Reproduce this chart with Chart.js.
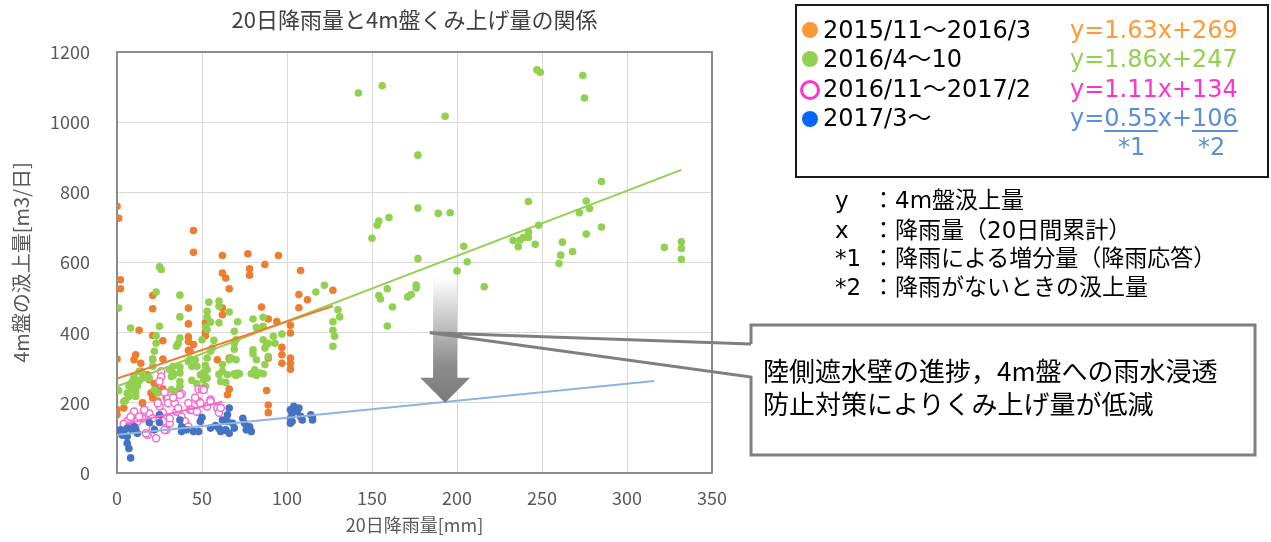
<!DOCTYPE html>
<html>
<head>
<meta charset="utf-8">
<script src="https://cdn.jsdelivr.net/npm/chart.js@4.4.1/dist/chart.umd.min.js"></script>
<style>
  html, body { margin: 0; padding: 0; background: #fff; }
  #wrap { position: relative; width: 1271px; height: 542px; overflow: hidden; }
  #chart { position: absolute; left: 0; top: 0; }
  .txt { position: absolute; white-space: nowrap; font-family: "DejaVu Sans", "Noto Sans CJK JP", sans-serif; color: #000; }
  #title { position: absolute; left: 117px; width: 595px; top: 5px; text-align: center; white-space: nowrap;
           font: 22px "Noto Sans CJK JP", sans-serif; color: #404040; line-height: 26px; }
  #legendBox { position: absolute; left: 795px; top: 4px; width: 474px; height: 174px; box-sizing: border-box; border: 2px solid #1a1a1a; }
  .row { font-size: 24px; line-height: 30px; height: 30px; }
  .dot { position: absolute; width: 16px; height: 16px; border-radius: 50%; }
  .ring { position: absolute; width: 14px; height: 14px; border-radius: 50%; border: 3px solid #ff33cc; }
  .eq { font-size: 24px; line-height: 30px; }
  .ul { text-decoration: underline; text-decoration-thickness: 2px; text-underline-offset: 4px; }
  .note { font-size: 23px; line-height: 28px; }
  .callout { font: 26px "Noto Sans CJK JP", sans-serif; line-height: 32px; }
</style>
</head>
<body>
<div id="wrap">
  <canvas id="chart" width="1271" height="542"></canvas>
  <div id="title">20日降雨量と4m盤くみ上げ量の関係</div>

  <div id="legendBox"></div>
  <div class="dot" style="left:802px;top:22px;background:#ff9933"></div>
  <div class="dot" style="left:802px;top:51px;background:#92d050"></div>
  <div class="ring" style="left:800px;top:80px"></div>
  <div class="dot" style="left:802px;top:111px;background:#0066ff"></div>
  <div class="txt row" style="left:823px;top:15px">2015/11～2016/3</div>
  <div class="txt row" style="left:823px;top:44px">2016/4～10</div>
  <div class="txt row" style="left:823px;top:74px">2016/11～2017/2</div>
  <div class="txt row" style="left:823px;top:103px">2017/3～</div>
  <div class="txt eq" style="left:1070px;top:15px;color:#ff9933">y=1.63x+269</div>
  <div class="txt eq" style="left:1070px;top:44px;color:#92d050">y=1.86x+247</div>
  <div class="txt eq" style="left:1070px;top:74px;color:#ff33cc">y=1.11x+134</div>
  <div class="txt eq" style="left:1070px;top:103px;color:#5b8fd6">y=<span class="ul">0.55</span>x+<span class="ul">106</span></div>
  <div class="txt eq" style="left:1118px;top:132px;color:#5b8fd6">*1</div>
  <div class="txt eq" style="left:1198px;top:132px;color:#5b8fd6">*2</div>

  <div class="txt note" style="left:835px;top:186px">y</div>
  <div class="txt note" style="left:872px;top:186px">：4m盤汲上量</div>
  <div class="txt note" style="left:835px;top:216px">x</div>
  <div class="txt note" style="left:872px;top:216px">：降雨量（20日間累計）</div>
  <div class="txt note" style="left:835px;top:244px">*1</div>
  <div class="txt note" style="left:872px;top:244px">：降雨による増分量（降雨応答）</div>
  <div class="txt note" style="left:835px;top:273px">*2</div>
  <div class="txt note" style="left:872px;top:273px">：降雨がないときの汲上量</div>

  <div class="txt callout" style="left:763px;top:354px">陸側遮水壁の進捗，4m盤への雨水浸透</div>
  <div class="txt callout" style="left:763px;top:387px">防止対策によりくみ上げ量が低減</div>
</div>
<script>
// 2015/11～2016/3
const orangeX = [0, 1, 2, 2, 0, 0, 0, 45, 45, 62, 77, 95, 87, 78, 78, 62, 64, 108, 66, 107, 112, 107, 127,
  21, 21, 42, 42, 85, 89, 62, 62, 52, 52, 52, 42, 42, 42, 13, 21, 27, 11, 10, 14, 21, 27, 45, 59, 66, 89,
  97, 97, 97, 102, 102, 102, 102, 102, 88, 89, 89, 66, 65, 14, 18, 22, 23, 21, 27, 29, 20, 15, 24, 12, 43, 4,
  94, 15, 19];
const orangeY = [760, 726, 551, 525, 325, 180, 166, 691, 629, 620, 625, 620, 594, 582, 564, 570, 556, 577, 525, 509, 494, 471, 521,
  506, 468, 470, 425, 473, 439, 470, 451, 428, 401, 391, 388, 375, 350, 407, 392, 377, 337, 323, 313, 325, 325, 366, 323, 328, 328,
  358, 337, 313, 421, 399, 328, 313, 296, 235, 194, 172, 239, 223, 290, 280, 255, 240, 214, 240, 214, 228, 200, 205, 260, 347, 185,
  432, 199, 266];

// 2016/4～10
const greenX = [142, 156, 247, 249, 274, 275, 193, 177, 285, 242, 276, 278, 272, 177, 189, 196, 160, 154, 153, 150,
  248, 242, 242, 239, 237, 233, 236, 246, 262, 261, 260, 268, 276, 285, 322, 332, 332, 332, 204, 206, 200, 177,
  216, 159, 176, 176, 173, 171, 154, 155, 162, 159, 122, 117, 130, 131, 127, 127, 128, 127, 97, 86, 82, 86, 89,
  87, 92, 80, 71, 66, 60, 60, 54, 53, 53, 55, 57, 52, 53, 50, 69, 69, 70, 71, 70, 62, 62, 61, 53, 52, 49, 44,
  42, 37, 37, 37, 37, 33, 33, 33, 37, 37, 35, 26, 25, 23, 25, 23, 23, 22, 21, 21, 8, 1, 1, 10, 10, 9, 11, 13,
  12, 7, 6, 5, 7, 4, 15, 19, 32, 22, 24, 35, 44, 52, 51, 47, 81, 82, 79, 84, 86, 80, 65, 69, 72, 64, 60, 32, 13, 11,
  60, 86, 88, 89, 93, 70, 43, 31, 15, 9, 46, 47, 51, 52, 53, 53, 66, 67, 69, 80, 82, 87, 56, 55, 36, 37];
const greenY = [1083, 1104, 1149, 1142, 1133, 1069, 1017, 906, 831, 774, 775, 754, 742, 755, 740, 742, 728, 718, 706, 669,
  706, 687, 671, 671, 664, 663, 645, 652, 658, 621, 597, 631, 681, 701, 643, 659, 640, 609, 646, 602, 576, 611,
  531, 525, 536, 527, 509, 502, 506, 496, 473, 419, 535, 516, 465, 445, 431, 407, 390, 361, 396, 444, 415, 380, 370,
  356, 390, 439, 431, 459, 490, 475, 487, 461, 445, 430, 378, 416, 409, 380, 404, 370, 323, 285, 278, 309, 290, 261, 328, 306, 280, 304,
  318, 302, 285, 261, 247, 304, 285, 278, 507, 445, 361, 580, 588, 516, 418, 391, 370, 347, 323, 304, 413, 470, 235, 276, 252, 238, 218, 262,
  248, 248, 228, 207, 218, 204, 285, 270, 275, 237, 228, 232, 264, 275, 287, 254, 294, 278, 283, 285, 283, 340, 280, 283, 283, 258, 281, 237, 290, 230,
  428, 418, 366, 332, 370, 380, 325, 294, 270, 261, 323, 304, 266, 247, 294, 270, 323, 328, 353, 351, 323, 309, 356, 347, 370, 385];

// 2016/11～2017/2
const pinkX = [26, 26, 25, 48, 50, 38, 42, 48, 43, 55, 59, 60, 30, 25, 30, 38, 39, 23, 18, 29, 31, 10, 6, 12, 19, 21,
  34, 35, 40, 42, 44, 47, 49, 31, 15, 10, 13, 27, 27, 28, 24, 21, 17, 28, 37, 8, 4, 16, 33, 46, 53, 36, 51, 55, 61];
const pinkY = [290, 275, 261, 239, 239, 226, 199, 204, 180, 209, 185, 172, 213, 190, 199, 161, 142, 99, 109, 123, 142, 175, 147, 147, 170, 156,
  199, 175, 147, 132, 180, 175, 199, 156, 156, 132, 161, 172, 147, 123, 199, 125, 113, 230, 223, 160, 140, 180, 215, 215, 190, 185, 237, 204, 186];

// 2017/3～
const blueX = [66, 65, 104, 107, 106, 103, 102, 102, 108, 109, 114, 115, 115, 2, 4, 6, 9, 11, 6, 6, 7, 8, 10, 25, 25,
  37, 38, 38, 41, 45, 48, 49, 61, 64, 65, 68, 69, 66, 74, 76, 79, 75, 19, 22, 12, 0, 3, 55, 58, 62, 78, 60, 63,
  102, 106, 103, 108, 50];
const blueY = [185, 166, 190, 185, 175, 170, 156, 142, 161, 151, 166, 156, 151, 123, 118, 128, 121, 126, 104, 85, 70, 43, 132, 144, 166,
  151, 132, 118, 123, 118, 118, 147, 118, 123, 147, 142, 128, 113, 156, 123, 118, 142, 144, 123, 113, 120, 108, 128, 135, 151, 132, 127, 122,
  180, 180, 147, 161, 158];

// trend lines (end points)
const orangeTrendX = [0, 127], orangeTrendY = [269, 476];
const greenTrendX = [0, 332], greenTrendY = [247, 864];
const pinkTrendX = [5, 62], pinkTrendY = [140, 203];
const blueTrendX = [0, 316], blueTrendY = [109, 262];

const xTicks = [0, 50, 100, 150, 200, 250, 300, 350];
const yTicks = [0, 200, 400, 600, 800, 1000, 1200];

// arrow and callout anchor, in data units
const arrowAt = { x: 193, from: 557, to: 200 };
const calloutTip = { x: 184, y: 400 };

const pts = (xs, ys) => xs.map((x, i) => ({ x: x, y: ys[i] }));

const scatterSet = (label, xs, ys, color, order, hollow) => ({
  type: 'scatter',
  label: label,
  data: pts(xs, ys),
  backgroundColor: hollow ? '#ffffff' : color,
  borderColor: color,
  borderWidth: hollow ? 1.5 : 0,
  pointRadius: hollow ? 3.6 : 3.8,
  order: order
});

const trendSet = (xs, ys, color) => ({
  type: 'line',
  data: pts(xs, ys),
  borderColor: color,
  borderWidth: 2,
  pointRadius: 0,
  fill: false,
  order: 0
});

const overlay = {
  id: 'overlay',
  beforeDatasetsDraw(chart) {
    const { ctx, chartArea: a } = chart;
    ctx.save();
    ctx.strokeStyle = '#8c8c8c';
    ctx.lineWidth = 2;
    ctx.strokeRect(a.left, a.top, a.right - a.left, a.bottom - a.top);
    ctx.restore();
  },
  afterDatasetsDraw(chart) {
    const { ctx, scales: { x, y } } = chart;
    ctx.save();

    // gray arrow
    const cx = x.getPixelForValue(arrowAt.x);
    const top = y.getPixelForValue(arrowAt.from);
    const tip = y.getPixelForValue(arrowAt.to);
    const g = ctx.createLinearGradient(0, top, 0, tip);
    g.addColorStop(0, '#ffffff');
    g.addColorStop(0.7, '#8c8c8c');
    g.addColorStop(1, '#7a7a7a');
    ctx.fillStyle = g;
    ctx.beginPath();
    ctx.moveTo(cx - 12, top);
    ctx.lineTo(cx + 12, top);
    ctx.lineTo(cx + 12, tip - 25);
    ctx.lineTo(cx + 25, tip - 25);
    ctx.lineTo(cx, tip);
    ctx.lineTo(cx - 25, tip - 25);
    ctx.lineTo(cx - 12, tip - 25);
    ctx.closePath();
    ctx.fill();

    // callout with pointer
    const tx = x.getPixelForValue(calloutTip.x);
    const ty = y.getPixelForValue(calloutTip.y);
    ctx.strokeStyle = '#7f7f7f';
    ctx.lineWidth = 3;
    ctx.lineJoin = 'miter';
    ctx.beginPath();
    ctx.moveTo(751, 344);
    ctx.lineTo(751, 325);
    ctx.lineTo(1255, 325);
    ctx.lineTo(1255, 455);
    ctx.lineTo(751, 455);
    ctx.lineTo(751, 377);
    ctx.lineTo(tx, ty);
    ctx.lineTo(751, 344);
    ctx.stroke();
    ctx.restore();
  }
};

Chart.defaults.font.family = "'Noto Sans CJK JP', sans-serif";

new Chart(document.getElementById('chart'), {
  data: {
    datasets: [
      scatterSet('2015/11～2016/3', orangeX, orangeY, '#ed7d31', 4, false),
      scatterSet('2016/4～10', greenX, greenY, '#92d050', 3, false),
      scatterSet('2016/11～2017/2', pinkX, pinkY, '#ff66cc', 2, true),
      scatterSet('2017/3～', blueX, blueY, '#4472c4', 1, false),
      trendSet(orangeTrendX, orangeTrendY, '#ed7d31'),
      trendSet(greenTrendX, greenTrendY, '#92d050'),
      trendSet(pinkTrendX, pinkTrendY, '#ff66cc'),
      trendSet(blueTrendX, blueTrendY, '#8db4e2')
    ]
  },
  options: {
    responsive: false,
    animation: false,
    layout: { padding: { left: 0, right: 559, top: 52, bottom: 0 } },
    plugins: {
      legend: { display: false },
      tooltip: { enabled: false },
      title: { display: false }
    },
    scales: {
      x: {
        type: 'linear',
        min: 0, max: 350,
        afterBuildTicks: s => { s.ticks = xTicks.map(v => ({ value: v })); },
        afterFit: s => { s.height = 69; },
        grid: { color: '#d9d9d9', drawTicks: false },
        border: { display: false },
        ticks: { color: '#595959', font: { size: 18 }, padding: 14, callback: v => String(v) },
        title: { display: true, text: '20日降雨量[mm]', color: '#595959', font: { size: 18 }, padding: { top: 0, bottom: 6 } }
      },
      y: {
        type: 'linear',
        min: 0, max: 1200,
        afterBuildTicks: s => { s.ticks = yTicks.map(v => ({ value: v })); },
        afterFit: s => { s.width = 117; },
        grid: { color: '#d9d9d9', drawTicks: false },
        border: { display: false },
        ticks: { color: '#595959', font: { size: 18 }, padding: 27, callback: v => String(v) },
        title: { display: true, text: '4m盤の汲上量[m3/日]', color: '#595959', font: { size: 20 }, padding: { top: 9, bottom: 0 } }
      }
    }
  },
  plugins: [overlay]
});
</script>
</body>
</html>
